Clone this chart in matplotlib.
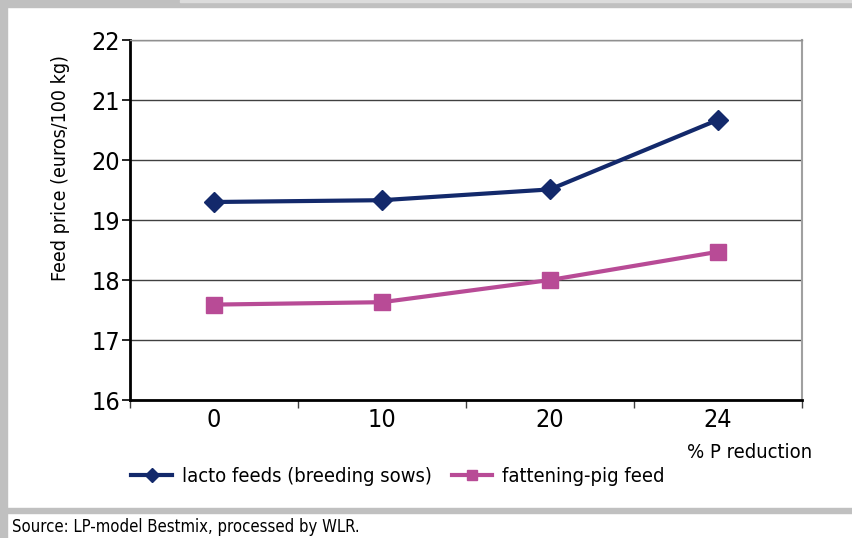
import matplotlib.pyplot as plt
from matplotlib.patches import Rectangle

# data
reduction = ['0', '10', '20', '24']
lacto = [19.30, 19.33, 19.51, 20.67]
fattening = [17.59, 17.63, 18.00, 18.47]

plt.rcParams['font.family'] = ['DejaVu Sans']
plt.rcParams['font.stretch'] = 'condensed'

fig = plt.figure(figsize=(8.52, 5.38), dpi=100)
W, H = 852, 538

# grey frame around the chart
fig.patches.append(Rectangle((0, 1 - 7 / H), 1, 7 / H, transform=fig.transFigure, color='#c0c0c0', zorder=0))
fig.patches.append(Rectangle((180 / W, 1 - 2 / H), 1, 2 / H, transform=fig.transFigure, color='#dcdcdc', zorder=1))
fig.patches.append(Rectangle((0, 0), 7 / W, 1, transform=fig.transFigure, color='#c0c0c0', zorder=0))
fig.patches.append(Rectangle((0, 1 - 513 / H), 1, 5 / H, transform=fig.transFigure, color='#c0c0c0', zorder=0))

ax = fig.add_axes([130 / W, 1 - 400 / H, 672 / W, 360 / H])
x = range(len(reduction))
ax.plot(x, lacto, color='#13296b', lw=3, marker='D', ms=10, label='lacto feeds (breeding sows)', zorder=3)
ax.plot(x, fattening, color='#b84b96', lw=3, marker='s', ms=11, label='fattening-pig feed', zorder=3)

ax.set_xlim(-0.5, 3.5)
ax.set_ylim(16, 22)
ax.set_yticks(range(16, 23))
ax.set_xticks(x)
ax.set_xticklabels(reduction)
ax.set_xticks([-0.5, 0.5, 1.5, 2.5, 3.5], minor=True)
ax.tick_params(axis='x', which='major', length=0, pad=6, labelsize=18)
ax.tick_params(axis='x', which='minor', length=6, width=1, color='#404040')
ax.tick_params(axis='y', length=6, width=1.2, pad=1, labelsize=18)
ax.grid(axis='y', color='#404040', lw=1)
ax.set_axisbelow(True)
for s in ['left', 'bottom']:
    ax.spines[s].set_linewidth(2)
ax.spines['right'].set_color('#a0a0a0')
ax.spines['right'].set_linewidth(1.5)
ax.spines['top'].set_color('#909090')
ax.spines['top'].set_linewidth(1)

ax.set_ylabel('Feed price (euros/100 kg)', fontsize=14)
ax.yaxis.set_label_coords(-60 / 672, 0.645)
fig.text(812 / W, 1 - 452 / H, '% P reduction', fontsize=14.5, ha='right', va='center')

handles, labels = ax.get_legend_handles_labels()
fig.legend(handles, labels, loc='center', bbox_to_anchor=(398 / W, 1 - 477 / H), ncol=2,
           frameon=False, fontsize=14.5, handlelength=2.0, columnspacing=1.0, handletextpad=0.5,
           markerscale=0.7)

fig.text(12 / W, 1 - 527 / H, 'Source: LP-model Bestmix, processed by WLR.', fontsize=12, ha='left', va='center')

fig.savefig('out.png', dpi=100)
